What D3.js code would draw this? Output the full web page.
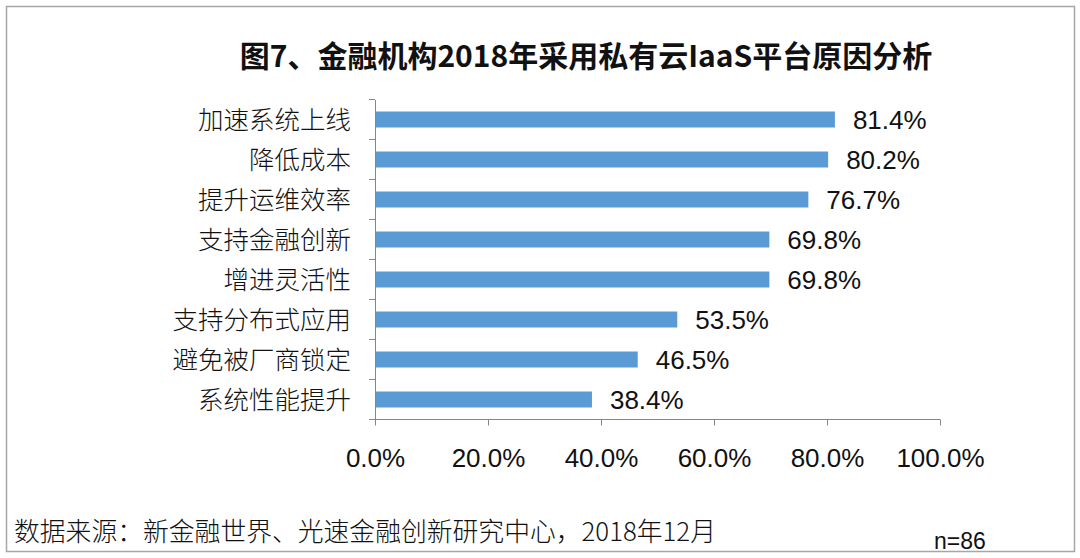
<!DOCTYPE html>
<html><head><meta charset="utf-8">
<script src="https://cdn.jsdelivr.net/npm/d3@7"></script>
<style>
html,body{margin:0;padding:0;background:#fff;}
svg{display:block;}
</style></head>
<body>
<svg id="c" width="1080" height="558"></svg>
<script>
const categories = ["加速系统上线","降低成本","提升运维效率","支持金融创新","增进灵活性","支持分布式应用","避免被厂商锁定","系统性能提升"];
const values = [81.4, 80.2, 76.7, 69.8, 69.8, 53.5, 46.5, 38.4];
const xTicks = [0, 20, 40, 60, 80, 100];
const titleText = "图7、金融机构2018年采用私有云IaaS平台原因分析";
const sourceText = "数据来源：新金融世界、光速金融创新研究中心，2018年12月";
const nText = "n=86";

const svg = d3.select("#c");
const cjk = "'Noto Sans CJK SC', sans-serif";
const lat = "'Liberation Sans', Arial, sans-serif";

svg.append("rect").attr("x",6.5).attr("y",6.5).attr("width",1068).attr("height",545)
  .attr("fill","#fff").attr("stroke","#a6a6a6").attr("stroke-width",1.5);

svg.append("text").attr("x",586).attr("y",67).attr("text-anchor","middle")
  .attr("font-family",cjk).attr("font-weight",700).attr("font-size",30).attr("fill","#111")
  .text(titleText);

const x = d3.scaleLinear().domain([0,100]).range([375,940]);
const y = d3.scaleBand().domain(categories).range([99.5,419.5]).paddingInner(0.6).paddingOuter(0.3);

const g = svg.append("g");
g.selectAll("rect.bar").data(categories).join("rect").attr("class","bar")
  .attr("x",x(0)).attr("y",d=>y(d)).attr("height",y.bandwidth())
  .attr("width",(d,i)=>x(values[i])-x(0)).attr("fill","#5b9bd5");

g.selectAll("text.val").data(categories).join("text").attr("class","val")
  .attr("x",(d,i)=>x(values[i])+18).attr("y",d=>y(d)+y.bandwidth()/2).attr("dy","0.38em")
  .attr("font-family",lat).attr("font-size",26).attr("fill","#111")
  .text((d,i)=>values[i].toFixed(1)+"%");

// y axis
const yb = d3.scaleBand().domain(categories).range([99.5,419.5]);
const yAxis = d3.axisLeft(yb).tickSize(0).tickFormat("");
const ya = svg.append("g").attr("transform",`translate(${x(0)},0)`).call(yAxis);
ya.select(".domain").attr("stroke","#868686").attr("stroke-width",1);
// boundary ticks
const bounds = categories.map(d=>yb(d)).concat([419.5]);
svg.append("g").selectAll("line").data(bounds).join("line")
  .attr("x1",x(0)-6).attr("x2",x(0)).attr("y1",d=>d).attr("y2",d=>d)
  .attr("stroke","#868686").attr("stroke-width",1);

svg.append("g").selectAll("text").data(categories).join("text")
  .attr("x",351).attr("y",d=>y(d)+y.bandwidth()/2).attr("dy","0.36em")
  .attr("text-anchor","end").attr("font-family",cjk).attr("font-weight",300)
  .attr("font-size",25.5).attr("fill","#111").text(d=>d);

// x axis
const xAxis = d3.axisBottom(x).tickValues(xTicks).tickSize(6).tickFormat(d=>d.toFixed(1)+"%").tickPadding(23);
const xa = svg.append("g").attr("transform","translate(0,419.5)").call(xAxis);
xa.select(".domain").attr("stroke","#868686").attr("d",`M${x(0)},0H${x(100)}`);
xa.selectAll(".tick line").attr("stroke","#868686");
xa.selectAll(".tick text").attr("font-family",lat).attr("font-size",26).attr("fill","#111");

svg.append("text").attr("x",14).attr("y",541).attr("font-family",cjk).attr("font-weight",300)
  .attr("font-size",25.8).attr("fill","#111").text(sourceText);
svg.append("text").attr("x",934).attr("y",549).attr("font-family",lat)
  .attr("font-size",23).attr("fill","#111").text(nText);
</script>
</body></html>
